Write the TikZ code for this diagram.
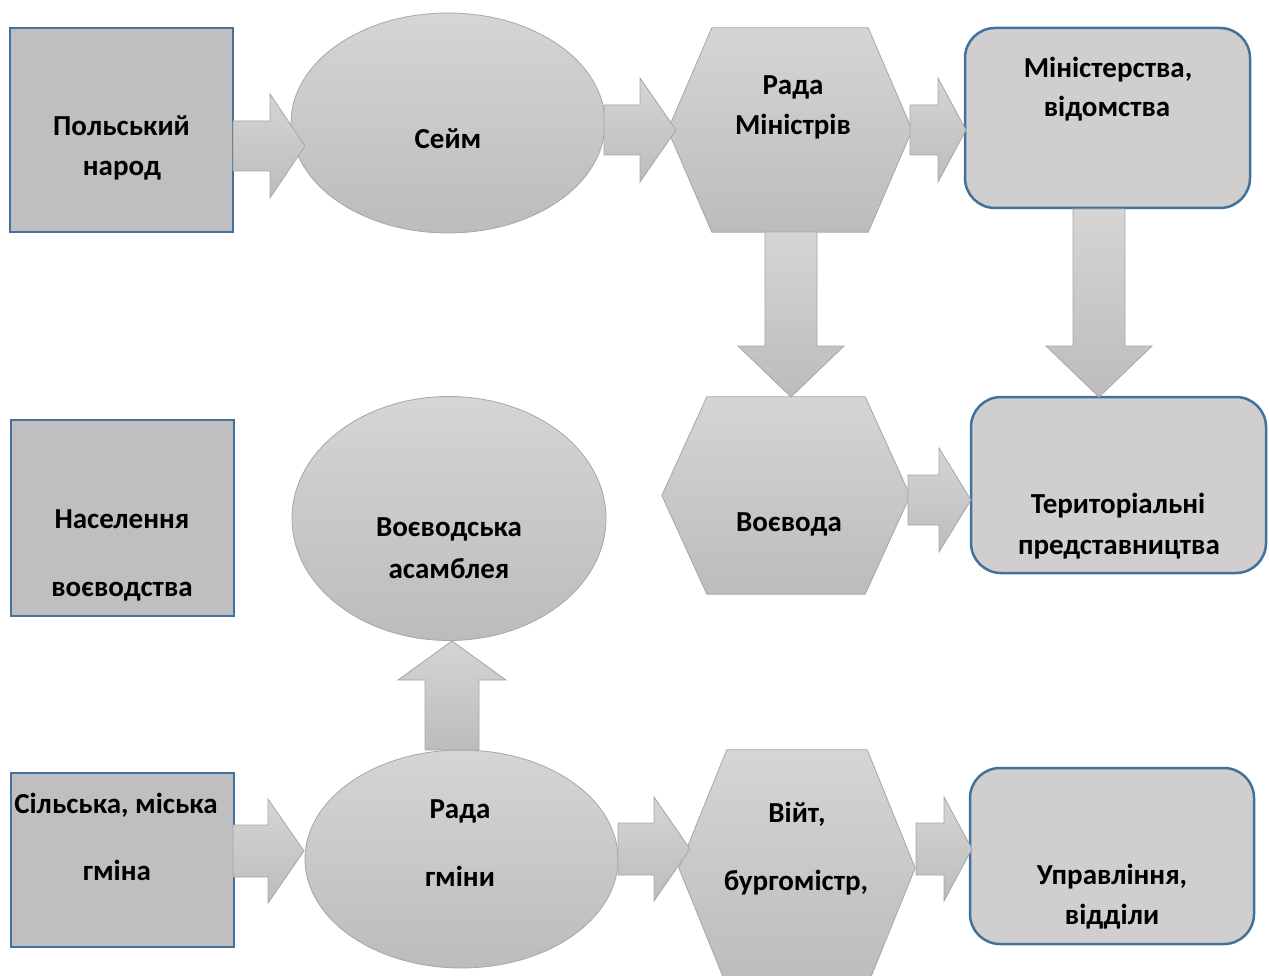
\documentclass[tikz,border=0pt]{standalone}
\usepackage{fontspec}
\setmainfont{Carlito}
\usetikzlibrary{shapes.geometric,calc}
\definecolor{blueline}{RGB}{65,113,156}
\definecolor{boxgray}{RGB}{191,191,191}
\definecolor{roundgray}{RGB}{208,206,206}
\definecolor{gtop}{RGB}{213,213,213}
\definecolor{gbot}{RGB}{188,188,188}
\definecolor{gline}{RGB}{166,166,166}
\tikzset{
 leftbox/.style={draw=blueline, line width=2.5pt, fill=boxgray, inner sep=0pt},
 roundbox/.style={draw=blueline, line width=2.5pt, fill=roundgray, rounded corners=30pt, inner sep=0pt},
 ellbox/.style={ellipse, draw=gline, line width=0.8pt, top color=gtop, bottom color=gbot, inner sep=0pt},
 hexframe/.style={inner sep=0pt, draw=none},
 gshape/.style={draw=gline, line width=0.8pt, top color=gtop, bottom color=gbot},
 lbl/.style={anchor=base, inner sep=0pt, font=\fontsize{29}{35}\selectfont\bfseries, text=black},
}
\newcommand\blockarrow[5]{%
 \coordinate (bab) at ($(#2)!#3!(#1)$);
 \path[gshape] ($(#1)!#4!90:(#2)$) -- ($(bab)!#4!-90:(#1)$) -- ($(bab)!#5!-90:(#1)$) -- (#2)
   -- ($(bab)!#5!90:(#1)$) -- ($(bab)!#4!90:(#1)$) -- ($(#1)!#4!-90:(#2)$) -- cycle;}
\newcommand\hexpath[2]{%
 \path[gshape] (#1.west) -- ($(#1.north west)+(#2,0)$) -- ($(#1.north east)+(-#2,0)$) -- (#1.east)
   -- ($(#1.south east)+(-#2,0)$) -- ($(#1.south west)+(#2,0)$) -- cycle;}
\begin{document}
\begin{tikzpicture}[x=1pt,y=-1pt]
\useasboundingbox (0,0) rectangle (1269,976);
% left boxes
\node[leftbox, minimum width=223pt, minimum height=204pt] (narod) at (121.5,130) {};
\node[leftbox, minimum width=223pt, minimum height=196pt] (naselennia) at (122.5,518) {};
\node[leftbox, minimum width=223pt, minimum height=174pt] (gmina) at (122.5,860) {};
% ellipses
\node[ellbox, minimum width=314pt, minimum height=220pt] (seim) at (448,123) {};
\node[ellbox, minimum width=314pt, minimum height=244pt] (asambleia) at (449,518.5) {};
\node[ellbox, minimum width=313pt, minimum height=218pt] (radagminy) at (461.5,859) {};
% hexagons
\node[hexframe, minimum width=244pt, minimum height=204pt] (radamin) at (790,130) {};
\hexpath{radamin}{44}
\node[hexframe, minimum width=248pt, minimum height=197pt] (voevoda) at (786,495.5) {};
\hexpath{voevoda}{45}
\node[hexframe, minimum width=236pt, minimum height=236pt] (viit) at (797,868) {};
\hexpath{viit}{48}
% rounded boxes
\node[roundbox, minimum width=285pt, minimum height=180pt] (minis) at (1107.5,118) {};
\node[roundbox, minimum width=295pt, minimum height=176pt] (terr) at (1118.5,485) {};
\node[roundbox, minimum width=284pt, minimum height=176pt] (upr) at (1112,856) {};
% arrow ends
\coordinate (a1s) at (233,146);  \coordinate (a1e) at (305,146);
\coordinate (a2s) at (604,130);  \coordinate (a2e) at (676,130);
\coordinate (a3s) at (910,130);  \coordinate (a3e) at (966,130);
\coordinate (a4s) at (908,500);  \coordinate (a4e) at (971,500);
\coordinate (a5s) at (233,851);  \coordinate (a5e) at (304,851);
\coordinate (a6s) at (618,849);  \coordinate (a6e) at (690,849);
\coordinate (a7s) at (916,849);  \coordinate (a7e) at (972,849);
\coordinate (d1s) at (791,232);  \coordinate (d1e) at (791,397);
\coordinate (d2s) at (1099,209); \coordinate (d2e) at (1099,397);
\coordinate (u1s) at (452,750);  \coordinate (u1e) at (452,641);
% arrows
\blockarrow{a1s}{a1e}{35pt}{25pt}{52pt}
\blockarrow{a2s}{a2e}{36pt}{25pt}{52pt}
\blockarrow{a3s}{a3e}{28pt}{25pt}{52pt}
\blockarrow{a4s}{a4e}{32pt}{25pt}{52pt}
\blockarrow{a5s}{a5e}{36pt}{26pt}{52pt}
\blockarrow{a6s}{a6e}{36pt}{26pt}{52pt}
\blockarrow{a7s}{a7e}{28pt}{26pt}{52pt}
\blockarrow{d1s}{d1e}{51pt}{26pt}{53pt}
\blockarrow{d2s}{d2e}{51pt}{26pt}{53pt}
\blockarrow{u1s}{u1e}{39pt}{27pt}{54pt}
% labels
\node[lbl] (t1a) at (121.5,136) {Польський};
\node[lbl] (t1b) at (122,176) {народ};
\node[lbl] (t2) at (448,149) {Сейм};
\node[lbl] (t3a) at (793,95) {Рада};
\node[lbl] (t3b) at (793,135) {Міністрів};
\node[lbl] (t4a) at (1108,78) {Міністерства,};
\node[lbl] (t4b) at (1107,117) {відомства};
\node[lbl] (t5a) at (122,528) {Населення};
\node[lbl] (t5b) at (122,596) {воєводства};
\node[lbl] (t6a) at (449,536) {Воєводська};
\node[lbl] (t6b) at (449,578) {асамблея};
\node[lbl] (t7) at (789,531) {Воєвода};
\node[lbl] (t8a) at (1118,513) {Територіальні};
\node[lbl] (t8b) at (1119,554) {представництва};
\node[lbl] (t9a) at (116,813) {Сільська, міська};
\node[lbl] (t9b) at (117,880) {гміна};
\node[lbl] (t10a) at (460,818) {Рада};
\node[lbl] (t10b) at (460,886) {гміни};
\node[lbl] (t11a) at (797,822) {Війт,};
\node[lbl] (t11b) at (796,890) {бургомістр,};
\node[lbl] (t12a) at (1112,884) {Управління,};
\node[lbl] (t12b) at (1112,924) {відділи};
\end{tikzpicture}
\end{document}
